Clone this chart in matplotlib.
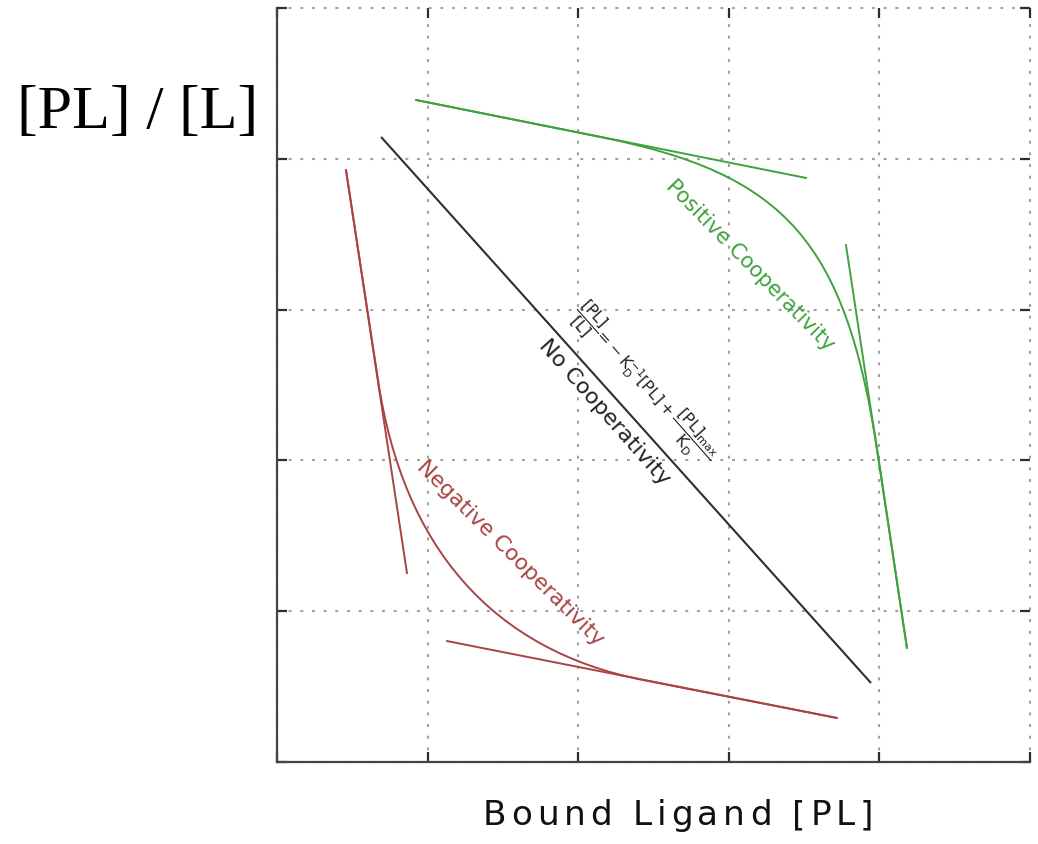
import numpy as np
import matplotlib
matplotlib.use("Agg")
import matplotlib.pyplot as plt
from matplotlib.font_manager import FontProperties
from matplotlib.textpath import TextToPath
from matplotlib.path import Path
from matplotlib.patches import PathPatch

# ---- data (axis units: 0..5 on both axes) ----
no_coop_x = [0.691, 3.944]
no_coop_y = [4.145, 0.524]

# Curves: start, point where the curve leaves the first asymptote,
# two Bezier handles, point where it joins the second asymptote, end.
pos_curve_x = [0.923, 2.145, 3.383, 3.776, 3.991, 4.183]
pos_curve_y = [4.390, 4.145, 3.899, 3.450, 2.036, 0.756]
pos_tan1_x = [0.923, 3.513]
pos_tan1_y = [4.390, 3.873]
pos_tan2_x = [3.778, 4.183]
pos_tan2_y = [3.428, 0.756]

neg_curve_x = [0.458, 0.671, 0.837, 1.436, 2.430, 3.718]
neg_curve_y = [3.926, 2.533, 1.417, 0.741, 0.544, 0.292]
neg_tan1_x = [0.458, 0.863]
neg_tan1_y = [3.926, 1.253]
neg_tan2_x = [1.129, 3.718]
neg_tan2_y = [0.802, 0.292]

grid_ticks = [0, 1, 2, 3, 4, 5]

GREEN = "#3fa23f"
RED = "#a84444"
DARK = "#2e2e2e"

plt.rcParams["mathtext.fontset"] = "dejavusans"

W, H, DPI = 1038, 844, 100
fig = plt.figure(figsize=(W / DPI, H / DPI), dpi=DPI)
ax = fig.add_axes([277 / W, 1 - 762 / H, (1030 - 277) / W, (762 - 8) / H])
ax.set_xlim(0, 5)
ax.set_ylim(0, 5)

# grid, ticks and frame
ax.set_xticks(grid_ticks)
ax.set_yticks(grid_ticks)
ax.grid(True, color="#a0a0a0", linewidth=1.5, linestyle=(0, (1.4, 4.2)))
for gl in ax.get_xgridlines() + ax.get_ygridlines():
    gl.set_clip_on(False)
ax.set_axisbelow(True)
ax.tick_params(axis="both", which="both", direction="in", length=7, width=1.6,
               color=DARK, top=True, right=True,
               labelleft=False, labelbottom=False, labeltop=False, labelright=False)
for side in ("top", "right"):
    ax.spines[side].set_visible(False)
for side in ("left", "bottom"):
    ax.spines[side].set_color("#444444")
    ax.spines[side].set_linewidth(1.6)

lw = 1.4
codes = [Path.MOVETO, Path.LINETO, Path.CURVE4, Path.CURVE4, Path.CURVE4, Path.LINETO]


def draw_curve(xs, ys, color):
    path = Path(np.column_stack([xs, ys]), codes)
    ax.add_patch(PathPatch(path, facecolor="none", edgecolor=color, lw=lw))


ax.plot(no_coop_x, no_coop_y, color=DARK, lw=1.5, solid_capstyle="butt")
draw_curve(pos_curve_x, pos_curve_y, GREEN)
ax.plot(pos_tan1_x, pos_tan1_y, color=GREEN, lw=lw)
ax.plot(pos_tan2_x, pos_tan2_y, color=GREEN, lw=lw)
draw_curve(neg_curve_x, neg_curve_y, RED)
ax.plot(neg_tan1_x, neg_tan1_y, color=RED, lw=lw)
ax.plot(neg_tan2_x, neg_tan2_y, color=RED, lw=lw)

# rotated annotations
ax.text(3.141, 3.296, "Positive Cooperativity", color=GREEN, fontsize=15.3,
        rotation=-45.5, rotation_mode="anchor", ha="center", va="center")
ax.text(1.548, 1.386, "Negative Cooperativity", color=RED, fontsize=15.8,
        rotation=-44.7, rotation_mode="anchor", ha="center", va="center")
ax.text(2.171, 2.321, "No Cooperativity", color="#222222", fontsize=16,
        rotation=-48.5, rotation_mode="anchor", ha="center", va="center")
eq = (r"$\dfrac{[\mathrm{PL}]}{[\mathrm{L}]}\!=\!-\mathrm{K}_{\mathrm{D}}^{-1}"
      r"[\mathrm{PL}]+\dfrac{[\mathrm{PL}]_{\mathrm{max}}}{\mathrm{K}_{\mathrm{D}}}$")
ax.text(1.979, 3.011, eq, color="#222222", fontsize=11.5,
        rotation=-48.5, rotation_mode="anchor", ha="left", va="center")

# y label (serif, horizontal)
fig.text(137.5 / W, 1 - 128 / H, "[PL] / [L]", family="Liberation Serif",
         fontsize=44.7, ha="center", va="baseline", color="black")

# x label with widened letter spacing
label = "Bound Ligand [PL]"
fsize = 24.7
fp = FontProperties(family="DejaVu Sans", size=fsize)
ttp = TextToPath()
px_per_pt = DPI / 72.0
wI = ttp.get_text_width_height_descent("I", fp, ismath=False)[0]
offsets = []
for i in range(len(label)):
    if i == 0:
        offsets.append(0.0)
    else:
        w = ttp.get_text_width_height_descent(label[:i] + "I", fp, ismath=False)[0] - wI
        offsets.append(w * px_per_pt)
total_natural = ttp.get_text_width_height_descent(label, fp, ismath=False)[0] * px_per_pt
x_start, x_end = 483.0, 873.0
track = ((x_end - x_start) - total_natural) / (len(label) - 1)
for i, ch in enumerate(label):
    if ch == " ":
        continue
    xp = x_start + offsets[i] + i * track
    fig.text(xp / W, 1 - 825 / H, ch, fontproperties=fp, ha="left",
             va="baseline", color="#111111")

fig.savefig("out.png", dpi=DPI)
